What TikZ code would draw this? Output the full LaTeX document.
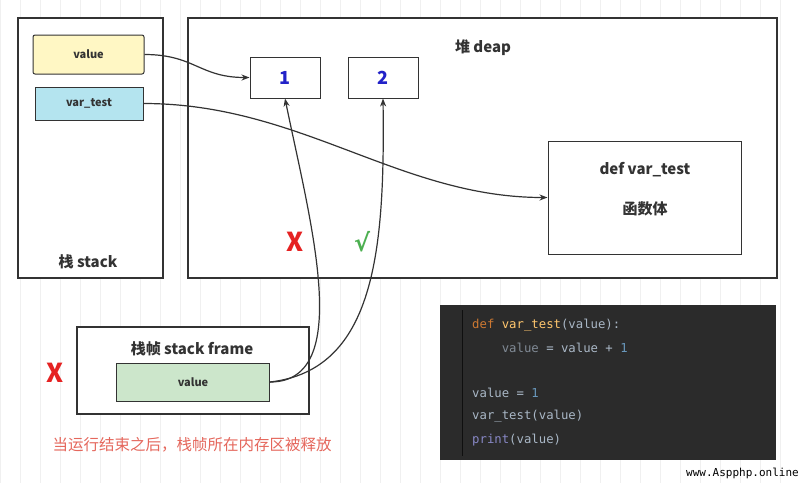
\documentclass[tikz,border=0pt]{standalone}
\usepackage{fontspec}
\setmainfont{Noto Sans CJK SC}
\setmonofont{DejaVu Sans Mono}
\newfontfamily\symfont{DejaVu Sans}
\usetikzlibrary{arrows.meta}
\definecolor{edge}{HTML}{333333}
\definecolor{yel}{HTML}{FFF7C4}
\definecolor{cyn}{HTML}{B4E4EF}
\definecolor{grn}{HTML}{CCE6CB}
\definecolor{numblue}{HTML}{2222C8}
\definecolor{xred}{HTML}{E52222}
\definecolor{okgreen}{HTML}{4CAF50}
\definecolor{note}{HTML}{E5675C}
\definecolor{codebg}{HTML}{2B2B2B}
\definecolor{cfg}{HTML}{A9B7C6}
\definecolor{ckw}{HTML}{CC7832}
\definecolor{cfn}{HTML}{FFC66D}
\definecolor{cnum}{HTML}{6897BB}
\definecolor{cbi}{HTML}{8888C6}
\definecolor{cdim}{HTML}{808A95}
\begin{document}
\begin{tikzpicture}[x=1pt,y=-1pt,
  box/.style={draw=edge,line width=1.3pt,fill=white,inner sep=0pt},
  cell/.style={draw=edge,line width=1pt,inner sep=0pt,font=\fontsize{11}{13}\selectfont\bfseries,text=black!80},
  lbl/.style={font=\fontsize{15}{18}\selectfont\bfseries,text=black!80},
  conn/.style={draw=edge,line width=1.2pt,-{Stealth[length=8pt,width=6pt]}},
  code/.style={anchor=west,inner sep=0pt,font=\fontsize{12.3}{14}\ttfamily,text=cfg}]
\useasboundingbox (0,0) rectangle (800,483);
\fill[white] (0,0) rectangle (800,483);
\draw[black!6,line width=0.6pt,step=20] (0,0) grid (800,483);
% containers
\node[box,minimum width=145,minimum height=260] (stack) at (90.5,148) {};
\node[box,minimum width=589,minimum height=260] (heap) at (482.5,148) {};
\node[lbl] (stackl) at (88,262) {栈 stack};
\node[lbl] (heapl) at (483,48) {堆 deap};
% stack cells
\node[cell,fill=yel,rounded corners=2pt,minimum width=111,minimum height=39] (valS) at (88.5,54.5) {value};
\node[cell,fill=cyn,minimum width=108,minimum height=33] (varS) at (89,103.5) {var\_test};
% heap objects
\node[box,line width=1pt,minimum width=70,minimum height=41,font=\fontsize{18}{20}\selectfont\bfseries,text=numblue] (n1) at (285,77.5) {1};
\node[box,line width=1pt,minimum width=70,minimum height=41,font=\fontsize{18}{20}\selectfont\bfseries,text=numblue] (n2) at (383,77.5) {2};
\node[box,line width=1pt,minimum width=193,minimum height=113] (fn) at (644.5,197.5) {};
\node[lbl] (fnl1) at (645,170) {def var\_test};
\node[lbl] (fnl2) at (645,209) {函数体};
% marks
\node[font=\fontsize{26}{28}\selectfont\bfseries,text=xred] (xa) at (295,242) {X};
\node[font=\fontsize{24}{26}\symfont\bfseries,text=okgreen] (ok) at (362,242) {√};
% stack frame
\node[box,minimum width=232,minimum height=87] (frame) at (193,370.5) {};
\node[lbl] (framel) at (192,349) {栈帧 stack frame};
\node[cell,fill=grn,minimum width=153,minimum height=38] (fval) at (193,382) {value};
\node[font=\fontsize{26}{28}\selectfont\bfseries,text=xred] (xb) at (55,373) {X};
\node[font=\fontsize{15.5}{18}\selectfont,text=note] (notel) at (192,445) {当运行结束之后，栈帧所在内存区被释放};
% connectors
\draw[conn] (valS.east) .. controls +(50,0) and +(-50,0) .. (n1.west);
\draw[conn] (varS.east) .. controls +(157,0) and +(-148,0) .. (fn.west);
\draw[conn] (fval.east) .. controls +(85,0) and +(25,122) .. (n1.south);
\draw[conn] (fval.east) .. controls +(105,-12) and +(2,152) .. (n2.south);
% code panel
\node[fill=codebg,inner sep=0pt,minimum width=336,minimum height=155] (codebox) at (608,382.5) {};
\draw[black!65!codebg,line width=0.8pt] (462,310) -- (462,456);
\node[code] (c1) at (472,325) {\textcolor{ckw}{def} \textcolor{cfn}{var\_test}(value):};
\node[code] (c2) at (472,348) {\phantom{xxxx}\textcolor{cdim}{value} = value + \textcolor{cnum}{1}};
\node[code] (c3) at (472,393) {value = \textcolor{cnum}{1}};
\node[code] (c4) at (472,416) {var\_test(value)};
\node[code] (c5) at (472,440) {\textcolor{cbi}{print}(value)};
% watermark
\node[anchor=east,inner sep=0pt,font=\fontsize{11}{12}\ttfamily,text=black] (wm) at (799,473) {www.Aspphp.online};
\end{tikzpicture}
\end{document}
